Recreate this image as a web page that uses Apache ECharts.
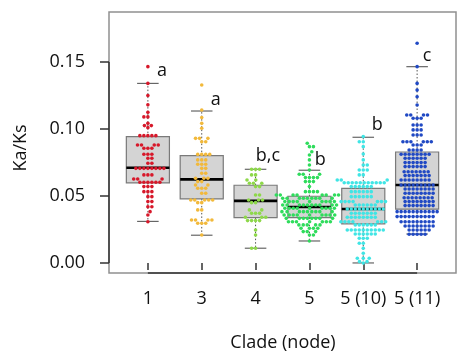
<!DOCTYPE html>
<html><head><meta charset="utf-8">
<script src="https://cdn.jsdelivr.net/npm/echarts@6/dist/echarts.min.js"></script>
<style>html,body{margin:0;padding:0;background:#fff}#c{width:474px;height:362px}</style>
</head><body><div id="c"></div>
<script>
// ---- data ----
const categories = ['1', '3', '4', '5', '5 (10)', '5 (11)'];
const yTicks = [0, 0.05, 0.10, 0.15];
// [lower whisker, Q1, median, Q3, upper whisker]
const boxStats = [
  [0.031, 0.0597, 0.0711, 0.0943, 0.134],
  [0.0207, 0.0478, 0.0624, 0.0801, 0.1134],
  [0.011, 0.0338, 0.0463, 0.058, 0.0699],
  [0.0164, 0.0338, 0.0418, 0.0498, 0.0692],
  [0.0, 0.0291, 0.0403, 0.0557, 0.0938],
  [0.0216, 0.0401, 0.0582, 0.0828, 0.1465]
];
const clade1 = [0.1465,0.134,0.125,0.118,0.1124,0.109,0.109,0.1042,0.1025,0.1025,0.101,
  0.095,0.095,0.095,0.095,0.095, 0.088,0.088,0.088,0.088, 0.0856,0.0856,0.0856, 0.0811,0.0811,0.0811,
  0.0781,0.0781, 0.0744,0.0744, 0.0706,0.0706,0.0706,0.0706,0.0706,0.0706,0.0706,0.0706,
  0.0657,0.0657,0.0657, 0.0627,0.0627,0.0627, 0.0602,0.0602,0.0602,0.0602,0.0602,0.0602,
  0.057,0.057,0.057, 0.0532,0.0532,0.0532, 0.0495,0.0495, 0.0458,0.0458, 0.042,0.042, 0.0383,0.0358,0.0308];
const clade3 = [0.1328,0.1142,0.1085,0.1042,0.1005, 0.093,0.093,0.093, 0.0905,0.0905,
  0.081,0.081,0.081,0.081, 0.0769,0.0769,0.0769, 0.0737,0.0737,0.0737, 0.0706,0.0706, 0.067,0.067,
  0.0632,0.0632,0.0632, 0.0607,0.0607, 0.0582,0.0582, 0.0557,0.0557,0.0557, 0.052,0.052,
  0.047,0.047,0.047,0.047,0.047, 0.045,0.045, 0.0396,0.0396, 0.0321,0.0321,0.0321,0.0321, 0.0296,0.0296,0.0296, 0.0209];
const clade4 = [0.0699,0.0699,0.0699, 0.0657,0.0657, 0.0619,0.0619, 0.0595,0.0595,0.0595, 0.057,0.057,
  0.0507,0.0507, 0.047,0.047,0.047, 0.045,0.045, 0.0396,0.0396, 0.0371,0.0371,0.0371, 0.0341,0.0341,0.0341,
  0.0316,0.0316,0.0316,0.0316, 0.0246, 0.0209, 0.011,0.011];
const clade5 = [0.0893, 0.0868,0.0868, 0.083, 0.0806, 0.0769, 0.0731, 0.0694, 0.0662,0.0662,0.0662,
  0.0637,0.0637,0.0637,0.0637, 0.0607,0.0607,0.0607, 0.057, 0.0532,0.0532,0.0532,0.0532,
  0.0507,0.0507,0.0507,0.0507,0.0507,0.0507,0.0507,0.0507,
  0.0483,0.0483,0.0483,0.0483,0.0483,0.0483,0.0483,0.0483,0.0483,
  0.0458,0.0458,0.0458,0.0458,0.0458,0.0458,0.0458,0.0458,0.0458,
  0.0433,0.0433,0.0433,0.0433,0.0433,0.0433,0.0433,0.0433,0.0433,0.0433,
  0.0408,0.0408,0.0408,0.0408,0.0408,0.0408,0.0408,0.0408,0.0408,
  0.0383,0.0383,0.0383,0.0383,0.0383,0.0383,0.0383,0.0383,0.0383,
  0.0358,0.0358,0.0358,0.0358,0.0358,0.0358,0.0358,0.0358,0.0358,
  0.0333,0.0333,0.0333,0.0333,0.0333,0.0333,0.0333,0.0333,
  0.0308,0.0308,0.0308,0.0308,0.0308,0.0308,0.0308,
  0.0284,0.0284,0.0284,0.0284,0.0284, 0.0259,0.0259,0.0259,0.0259, 0.0234,0.0234,0.0234, 0.0209,0.0209, 0.0164];
const clade5_10 = [0.0943, 0.0905,0.0905, 0.0868, 0.0813, 0.0769, 0.0731,0.0731, 0.0694,0.0694,0.0694, 0.0657,0.0657, 0.0619,0.0619,0.0619,
  0.0599,0.0599,0.0599,0.0599,0.0599,0.0599,0.0599,0.0599,0.0599,0.0599,0.0599,
  0.057,0.057,0.057,0.057,0.057,0.057, 0.0532,0.0532,0.0532,0.0532,0.0532,0.0532,
  0.0495,0.0495,0.0495,0.0495,0.0495,0.0495, 0.0458,0.0458,0.0458,0.0458,0.0458,0.0458,0.0458,
  0.0433,0.0433,0.0433,0.0433,0.0433,0.0433,
  0.0403,0.0403,0.0403,0.0403,0.0403,0.0403,0.0403,0.0403,0.0403,0.0403,
  0.0371,0.0371,0.0371,0.0371,0.0371,0.0371,0.0371, 0.0341,0.0341,0.0341,0.0341,0.0341,0.0341,0.0341,0.0341,
  0.0308,0.0308,0.0308,0.0308,0.0308,0.0308,0.0308, 0.0284,0.0284,0.0284,0.0284,0.0284,0.0284,
  0.0246,0.0246,0.0246,0.0246,0.0246,0.0246,0.0246,0.0246,0.0246,0.0246,
  0.0216,0.0216,0.0216,0.0216,0.0216,0.0216, 0.0184,0.0184,0.0184, 0.0147,0.0147, 0.011, 0.0072,
  0.0035,0.0035,0.0035, 0.001,0.001, 0.0];
const clade5_11 = [0.164, 0.1465, 0.134, 0.129, 0.1241, 0.1179, 0.1104,0.1104,0.1104,0.1104, 0.108,0.108,0.108,
  0.103,0.103,0.103, 0.0993,0.0993,0.0993, 0.0955,0.0955,0.0955, 0.0905,0.0905,0.0905,0.0905,0.0905,0.0905,
  0.088,0.088,0.088, 0.0843,0.0843,0.0843,0.0843, 0.0811,0.0811,0.0811,0.0811,0.0811,0.0811,0.0811,0.0811,
  0.0781,0.0781,0.0781,0.0781,0.0781,0.0781, 0.0749,0.0749,0.0749,0.0749,0.0749,0.0749,
  0.0719,0.0719,0.0719,0.0719,0.0719,0.0719, 0.0681,0.0681,0.0681,0.0681,0.0681,0.0681,0.0681,
  0.0652,0.0652,0.0652,0.0652,0.0652,0.0652,0.0652, 0.0619,0.0619,0.0619,0.0619,0.0619,0.0619,0.0619,0.0619,
  0.0582,0.0582,0.0582,0.0582,0.0582,0.0582,0.0582,0.0582,0.0582, 0.0552,0.0552,0.0552,0.0552,0.0552,0.0552,0.0552,0.0552,
  0.052,0.052,0.052,0.052,0.052,0.052,0.052,0.052, 0.0487,0.0487,0.0487,0.0487,0.0487,0.0487,0.0487,0.0487,
  0.0458,0.0458,0.0458,0.0458,0.0458,0.0458,0.0458,0.0458, 0.0428,0.0428,0.0428,0.0428,0.0428,0.0428,0.0428,0.0428,
  0.0383,0.0383,0.0383,0.0383,0.0383,0.0383,0.0383,0.0383,0.0383,0.0383,0.0383,
  0.0346,0.0346,0.0346,0.0346,0.0346,0.0346,0.0346,0.0346,0.0346,0.0346,
  0.0308,0.0308,0.0308,0.0308,0.0308,0.0308,0.0308,0.0308,0.0308,
  0.0276,0.0276,0.0276,0.0276,0.0276,0.0276,0.0276,0.0276, 0.0246,0.0246,0.0246,0.0246,0.0246,0.0246,
  0.0214,0.0214,0.0214,0.0214,0.0214];
const cladeValues = [clade1, clade3, clade4, clade5, clade5_10, clade5_11];
const letters = ['a', 'a', 'b,c', 'b', 'b', 'c'];
const letterY = [0.1437, 0.122, 0.0802, 0.0767, 0.1028, 0.1543];

// ---- style ----
const colors = ['#d7182a', '#f2b93b', '#8ed84a', '#2fdc5c', '#40e5e5', '#2049c4'];
const letterDx = [0.26, 0.26, 0.23, 0.2, 0.26, 0.185];
const FONT = '"Open Sans", Lato, sans-serif';

const chart = echarts.init(document.getElementById('c'));
const base = {
  animation: false,
  grid: { left: 109, top: 12, right: 18, bottom: 89, show: true, borderColor: '#909090', borderWidth: 1.5, backgroundColor: 'transparent' },
  xAxis: {
    type: 'value', min: 0.278, max: 6.722,
    axisLine: { show: false }, splitLine: { show: false },
    axisTick: { customValues: [1, 2, 3, 4, 5, 6], length: 7, lineStyle: { color: '#333', width: 1.5 } },
    axisLabel: { customValues: [1, 2, 3, 4, 5, 6], formatter: v => categories[Math.round(v) - 1], margin: 17, fontSize: 18, color: '#111', fontFamily: FONT }
  },
  yAxis: {
    type: 'value', min: -0.0075, max: 0.1873,
    axisLine: { show: false }, splitLine: { show: false },
    axisTick: { customValues: yTicks, length: 9, lineStyle: { color: '#333', width: 1.5 } },
    axisLabel: { customValues: yTicks, formatter: v => v.toFixed(2), margin: 24, fontSize: 18, color: '#111', fontFamily: FONT }
  },
  graphic: [
    { type: 'text', x: 283, y: 343, style: { text: 'Clade (node)', fontSize: 18, fontFamily: FONT, fill: '#111', align: 'center', verticalAlign: 'middle' } },
    { type: 'text', x: 21, y: 148, rotation: Math.PI / 2, style: { text: 'Ka/Ks', fontSize: 18, fontFamily: FONT, fill: '#111', align: 'center', verticalAlign: 'middle' } }
  ],
  series: []
};
chart.setOption(base);

// beeswarm layout in pixel space
const pxPerX = chart.convertToPixel({ gridIndex: 0 }, [2, 0])[0] - chart.convertToPixel({ gridIndex: 0 }, [1, 0])[0];
const D = 4.0;
function swarm(vals) {
  const sorted = vals.slice().sort((a, b) => a - b);
  const placed = [];
  const out = [];
  sorted.forEach((v, idx) => {
    const py = chart.convertToPixel({ gridIndex: 0 }, [1, v])[1];
    const near = placed.filter(p => Math.abs(p.y - py) < D);
    const cands = [0];
    near.forEach(p => { const dx = Math.sqrt(D * D - (p.y - py) ** 2); cands.push(p.x + dx, p.x - dx); });
    const ok = cands.filter(c => near.every(p => (p.x - c) ** 2 + (p.y - py) ** 2 >= D * D - 1e-6));
    ok.sort((a, b) => Math.abs(a) - Math.abs(b) || (idx % 2 ? a - b : b - a));
    const x = ok[0];
    placed.push({ x, y: py });
    out.push([x / pxPerX, v]);
  });
  return out;
}

const series = [];
// axis segments (R style)
series.push({
  type: 'custom', z: 5, silent: true, clip: false,
  data: [[1, 6]],
  renderItem: (params, api) => {
    const cs = params.coordSys;
    const b = cs.y + cs.height;
    const x1 = api.coord([1, 0])[0], x6 = api.coord([6, 0])[0];
    const y0 = api.coord([1, yTicks[0]])[1], y3 = api.coord([1, yTicks[yTicks.length - 1]])[1];
    return { type: 'group', children: [
      { type: 'line', shape: { x1: x1, y1: b, x2: x6, y2: b }, style: { stroke: '#333', lineWidth: 1.5 } },
      { type: 'line', shape: { x1: cs.x, y1: y3, x2: cs.x, y2: y0 }, style: { stroke: '#333', lineWidth: 1.5 } }
    ] };
  }
});
// boxes
series.push({
  type: 'custom', z: 2, silent: true,
  data: boxStats.map((s, i) => [i + 1].concat(s)),
  renderItem: (params, api) => {
    const x = api.value(0);
    const mn = api.value(1), q1 = api.value(2), md = api.value(3), q3 = api.value(4), mx = api.value(5);
    const cx = api.coord([x, md])[0];
    const hw = api.size([0.8, 0])[0] / 2;
    const cw = api.size([0.4, 0])[0] / 2;
    const Y = v => api.coord([x, v])[1];
    const wh = { stroke: '#555', lineWidth: 1, lineDash: [1.5, 2] };
    const cap = { stroke: '#666', lineWidth: 1.2 };
    return { type: 'group', children: [
      { type: 'line', shape: { x1: cx, y1: Y(q3), x2: cx, y2: Y(mx) }, style: wh },
      { type: 'line', shape: { x1: cx, y1: Y(q1), x2: cx, y2: Y(mn) }, style: wh },
      { type: 'line', shape: { x1: cx - cw, y1: Y(mx), x2: cx + cw, y2: Y(mx) }, style: cap },
      { type: 'line', shape: { x1: cx - cw, y1: Y(mn), x2: cx + cw, y2: Y(mn) }, style: cap },
      { type: 'rect', shape: { x: cx - hw, y: Y(q3), width: 2 * hw, height: Y(q1) - Y(q3) }, style: { fill: '#d4d4d4', stroke: '#7a7a7a', lineWidth: 1.2 } },
      { type: 'line', shape: { x1: cx - hw, y1: Y(md), x2: cx + hw, y2: Y(md) }, style: { stroke: '#000', lineWidth: 2.6 } }
    ] };
  }
});
// points
cladeValues.forEach((vals, i) => {
  series.push({
    type: 'scatter', z: 3, silent: true,
    symbolSize: 3.6,
    itemStyle: { color: colors[i], opacity: 1 },
    data: swarm(vals).map(p => [i + 1 + p[0], p[1]])
  });
});
// letters
series.push({
  type: 'custom', z: 6, silent: true, clip: false,
  data: letters.map((t, i) => [i + 1 + letterDx[i], letterY[i]]),
  renderItem: (params, api) => {
    const p = api.coord([api.value(0), api.value(1)]);
    return { type: 'text', x: p[0], y: p[1], style: { text: letters[params.dataIndex], fontSize: 18, fontFamily: FONT, fill: '#111', align: 'center', verticalAlign: 'middle' } };
  }
});
chart.setOption({ series: series });
</script></body></html>
